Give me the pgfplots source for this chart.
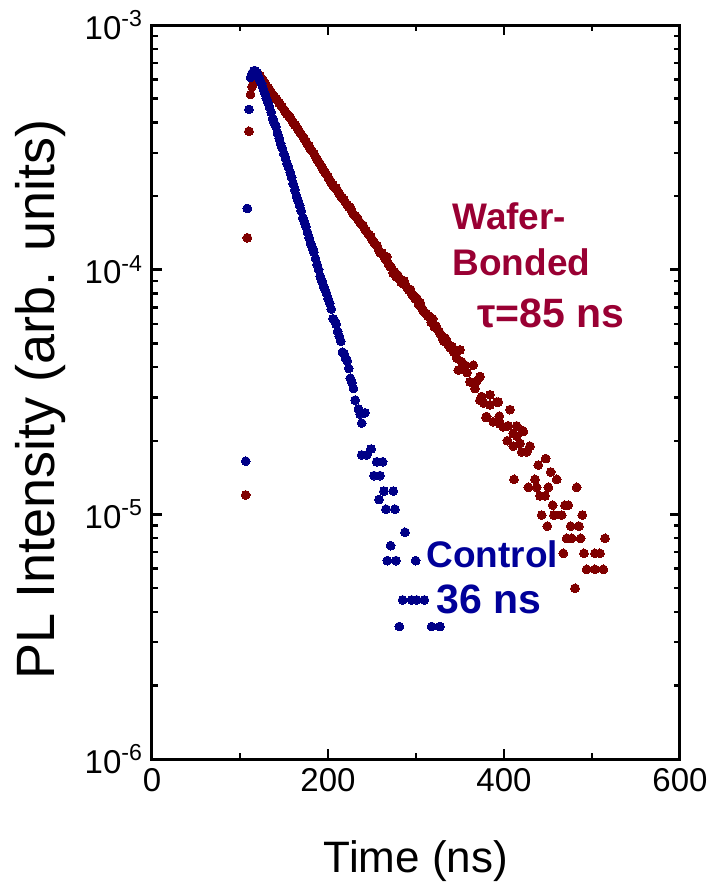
\documentclass[border=0pt]{standalone}
\usepackage{fontspec}
\setmainfont{Liberation Sans}
\usepackage{pgfplots}
\pgfplotsset{compat=1.18}
\definecolor{wred}{RGB}{128,0,0}
\definecolor{cblue}{RGB}{0,0,135}
\definecolor{wtxt}{RGB}{153,0,51}
\definecolor{ctxt}{RGB}{0,0,153}
\begin{document}
\begin{tikzpicture}
\path[use as bounding box] (-76pt,-62pt) rectangle (279pt,379.5pt);
\begin{axis}[
 scale only axis, width=264pt, height=367pt,
 xmin=0, xmax=600, ymode=log, ymin=1e-6, ymax=1e-3,
 xtick={0,200,400,600}, xticklabels={0,200,400,600},
 minor xtick={100,300,500},
 ytick={1e-6,1e-5,1e-4,1e-3},
 yticklabels={10\textsuperscript{-6},10\textsuperscript{-5},10\textsuperscript{-4},10\textsuperscript{-3}},
 minor ytick={2e-6,3e-6,4e-6,5e-6,6e-6,7e-6,8e-6,9e-6,2e-5,3e-5,4e-5,5e-5,6e-5,7e-5,8e-5,9e-5,2e-4,3e-4,4e-4,5e-4,6e-4,7e-4,8e-4,9e-4},
 tick align=inside, tick pos=both,
 major tick length=5pt, minor tick length=3pt,
 every tick/.style={black, line width=1.2pt},
 axis line style={line width=1.5pt},
 xticklabel style={font=\fontsize{16.5}{16.5}\selectfont, yshift=-1pt},
 yticklabel style={font=\fontsize{16.5}{16.5}\selectfont, xshift=-1pt},
 xlabel={Time (ns)}, ylabel={PL Intensity (arb. units)},
 every axis x label/.style={at={(axis description cs:0.5,-0.154)}, anchor=base, font=\fontsize{22}{22}\selectfont},
 every axis y label/.style={at={(axis description cs:-0.212,0.49)}, rotate=90, anchor=center, font=\fontsize{27}{27}\selectfont},
 clip=false,
]
\addplot[only marks, mark=*, mark size=2.2pt, mark options={draw=wred, fill=wred, line width=0pt}] coordinates {
(106.5,1.2e-5) (108.3,1.35e-4) (110.2,3.68e-4) (112.0,5.2e-4) (113.8,5.6e-4) (115.6,5.8e-4) (117.4,6.05e-4) (119.2,6.25e-4) (121.0,6.3e-4) (122.8,6.2e-4)
(124.6,6.05e-4) (126.4,5.95e-4) (128.2,5.8e-4) (130.0,5.65e-4) (131.8,5.55e-4) (133.6,5.45e-4) (135.4,5.3e-4) (137.2,5.2e-4) (139.0,5.1e-4) (140.8,5.02e-4)
(142.6,4.92e-4) (144.4,4.8e-4) (146.2,4.72e-4) (148.0,4.62e-4) (149.8,4.52e-4) (151.6,4.42e-4) (153.4,4.32e-4) (155.2,4.25e-4) (157.0,4.2e-4) (158.8,4.08e-4)
(160.6,3.98e-4) (162.4,3.9e-4) (164.2,3.84e-4) (166.0,3.75e-4) (167.8,3.66e-4) (169.6,3.58e-4) (171.4,3.5e-4) (173.2,3.42e-4) (175.0,3.35e-4) (176.8,3.26e-4)
(178.6,3.2e-4) (180.4,3.1e-4) (182.2,3.05e-4) (184.0,2.98e-4) (185.8,2.9e-4) (187.6,2.82e-4) (189.4,2.76e-4) (191.2,2.7e-4) (193.0,2.63e-4) (194.8,2.56e-4)
(196.6,2.5e-4) (198.4,2.45e-4) (200.2,2.39e-4) (202.0,2.33e-4) (203.8,2.26e-4) (205.6,2.22e-4) (207.4,2.17e-4) (209.2,2.16e-4) (211.0,2.1e-4) (212.8,2.05e-4)
(214.6,2.0e-4) (216.4,1.97e-4) (218.2,1.93e-4) (220.0,1.88e-4) (221.8,1.84e-4) (223.6,1.8e-4) (225.4,1.8e-4) (227.2,1.73e-4) (229.0,1.68e-4) (230.8,1.66e-4)
(232.6,1.64e-4) (234.4,1.6e-4) (236.2,1.56e-4) (238.0,1.53e-4) (239.8,1.52e-4) (241.6,1.47e-4) (243.4,1.44e-4) (245.2,1.41e-4) (247.0,1.39e-4) (248.8,1.36e-4)
(250.6,1.32e-4) (252.4,1.29e-4) (254.2,1.27e-4) (256.0,1.25e-4) (257.8,1.2e-4) (259.6,1.17e-4) (261.4,1.17e-4) (263.2,1.14e-4) (265.0,1.11e-4) (266.8,1.13e-4)
(268.6,1.06e-4) (270.4,1.03e-4) (272.2,1.02e-4) (274.0,9.7e-5) (275.8,9.8e-5) (277.6,9.35e-5) (279.4,9.5e-5) (281.2,9.2e-5) (283.0,8.9e-5) (284.8,8.8e-5)
(286.6,9.0e-5) (288.4,8.6e-5) (290.2,8.4e-5) (292.0,8.25e-5) (293.8,8.3e-5) (295.6,7.9e-5) (297.4,7.85e-5) (299.2,7.6e-5) (301.0,7.64e-5) (302.8,7.2e-5)
(304.6,7.35e-5) (306.4,7.0e-5) (308.2,6.8e-5) (310.0,6.7e-5) (311.8,6.6e-5) (313.6,6.45e-5) (315.4,6.45e-5) (317.2,6.1e-5) (319.0,6.3e-5) (320.8,5.85e-5)
(322.6,5.9e-5) (324.4,5.7e-5) (326.2,5.6e-5) (328.0,5.45e-5) (329.8,5.3e-5) (331.6,5.1e-5) (333.4,5.25e-5) (335.2,5.08e-5) (337.0,4.9e-5) (339.0,4.8e-5)
(341.0,4.85e-5) (343.0,4.6e-5) (346.3,4.35e-5) (348.1,3.89e-5) (350.0,4.7e-5) (352.0,4.2e-5) (355.7,4.07e-5) (358.0,3.8e-5) (361.4,3.48e-5) (365.1,4.07e-5)
(367.0,3.27e-5) (369.0,3.5e-5) (372.7,3.66e-5) (374.6,3.03e-5) (377.0,2.85e-5) (384.1,3.08e-5) (391.7,2.88e-5) (380.3,2.51e-5) (399.2,2.28e-5) (410.6,2.14e-5)
(421.9,2.18e-5) (372.7,2.93e-5) (384.1,2.8e-5) (393.5,2.88e-5) (406.8,2.68e-5) (379.5,2.49e-5) (387.9,2.39e-5) (394.7,2.52e-5) (395.5,2.34e-5) (404.9,2.3e-5)
(414.4,2.3e-5) (414.4,2.09e-5) (421.2,2.2e-5) (403.8,2.0e-5) (410.6,1.9e-5) (418.2,1.95e-5) (429.5,1.9e-5) (425.8,1.8e-5) (420.1,1.8e-5) (447.4,1.69e-5)
(439.0,1.59e-5) (411.4,1.39e-5) (435.2,1.39e-5) (453.1,1.49e-5) (459.9,1.39e-5) (427.7,1.29e-5) (437.1,1.29e-5) (450.4,1.29e-5) (482.6,1.29e-5) (440.9,1.19e-5)
(446.6,1.19e-5) (455.3,1.09e-5) (469.3,1.09e-5) (473.1,1.09e-5) (442.8,9.93e-6) (456.8,9.93e-6) (465.6,9.93e-6) (489.0,9.93e-6) (449.2,8.95e-6) (475.8,8.95e-6)
(485.2,8.95e-6) (471.2,7.98e-6) (476.9,7.98e-6) (487.1,7.98e-6) (514.8,7.98e-6) (467.4,6.93e-6) (490.9,6.93e-6) (503.4,6.93e-6) (509.1,6.93e-6) (493.9,5.96e-6)
(503.4,5.96e-6) (512.9,5.96e-6) (480.7,4.99e-6)
};
\addplot[only marks, mark=*, mark size=2.2pt, mark options={draw=cblue, fill=cblue, line width=0pt}] coordinates {
(106.5,1.65e-5) (108.3,1.78e-4) (110.2,4.52e-4) (112.0,6.1e-4) (113.8,6.35e-4) (115.6,6.5e-4) (117.4,6.5e-4) (119.2,6.4e-4) (121.0,6.15e-4) (122.8,5.95e-4)
(124.6,5.75e-4) (126.4,5.5e-4) (128.2,5.25e-4) (130.0,5.02e-4) (131.8,4.82e-4) (133.6,4.62e-4) (135.4,4.4e-4) (137.2,4.15e-4) (139.0,3.98e-4) (140.8,3.85e-4)
(142.6,3.62e-4) (144.4,3.45e-4) (146.2,3.27e-4) (148.0,3.14e-4) (149.8,2.98e-4) (151.6,2.87e-4) (153.4,2.72e-4) (155.2,2.62e-4) (157.0,2.5e-4) (158.8,2.38e-4)
(160.6,2.24e-4) (162.4,2.12e-4) (164.2,2.0e-4) (166.0,1.92e-4) (167.8,1.83e-4) (169.6,1.74e-4) (171.4,1.63e-4) (173.2,1.57e-4) (175.0,1.5e-4) (176.8,1.42e-4)
(178.6,1.35e-4) (180.4,1.28e-4) (182.2,1.23e-4) (184.0,1.18e-4) (185.8,1.11e-4) (187.6,1.05e-4) (189.4,1.0e-4) (191.2,9.4e-5) (193.0,9.0e-5) (194.8,8.6e-5)
(196.6,8.3e-5) (198.4,8.0e-5) (200.2,7.6e-5) (202.0,7.3e-5) (203.8,6.9e-5) (205.6,6.3e-5) (207.4,6.2e-5) (209.2,6.0e-5) (211.0,5.6e-5) (212.8,5.35e-5)
(214.6,5.1e-5) (216.4,4.6e-5) (218.2,4.55e-5) (220.0,4.35e-5) (221.8,4.25e-5) (223.6,3.95e-5) (225.4,3.6e-5) (227.2,3.45e-5) (229.0,3.27e-5) (230.8,2.93e-5)
(234.6,2.7e-5) (236.4,2.57e-5) (238.3,2.36e-5) (242.0,2.6e-5) (238.3,1.75e-5) (244.0,1.75e-5) (248.9,1.85e-5) (252.3,1.44e-5) (255.3,1.64e-5) (258.0,1.15e-5)
(259.1,1.44e-5) (262.1,1.64e-5) (263.6,1.245e-5) (265.9,1.05e-5) (267.4,6.47e-6) (271.2,7.45e-6) (274.2,1.245e-5) (276.1,1.05e-5) (277.3,6.47e-6) (281.0,3.48e-6)
(284.8,4.47e-6) (287.5,8.45e-6) (295.0,4.47e-6) (299.6,6.47e-6) (300.8,4.47e-6) (309.5,4.47e-6) (317.8,3.48e-6) (327.3,3.48e-6)
};
\node[inner sep=0pt, anchor=base west, text=wtxt, font=\bfseries\fontsize{18.5}{19}\selectfont] at (axis cs:341,1.453e-4) {Wafer-};
\node[inner sep=0pt, anchor=base west, text=wtxt, font=\bfseries\fontsize{18.5}{19}\selectfont] at (axis cs:341,9.5e-5) {Bonded};
\node[inner sep=0pt, anchor=base west, text=wtxt, font=\bfseries\fontsize{20.5}{22}\selectfont] at (axis cs:369,5.83e-5) {τ=85 ns};
\node[inner sep=0pt, anchor=base west, text=ctxt, font=\bfseries\fontsize{18.5}{19}\selectfont] at (axis cs:311.4,6.09e-6) {Control};
\node[inner sep=0pt, anchor=base west, text=ctxt, font=\bfseries\fontsize{20.5}{21}\selectfont] at (axis cs:322.7,3.95e-6) {36 ns};
\end{axis}
\end{tikzpicture}
\end{document}
